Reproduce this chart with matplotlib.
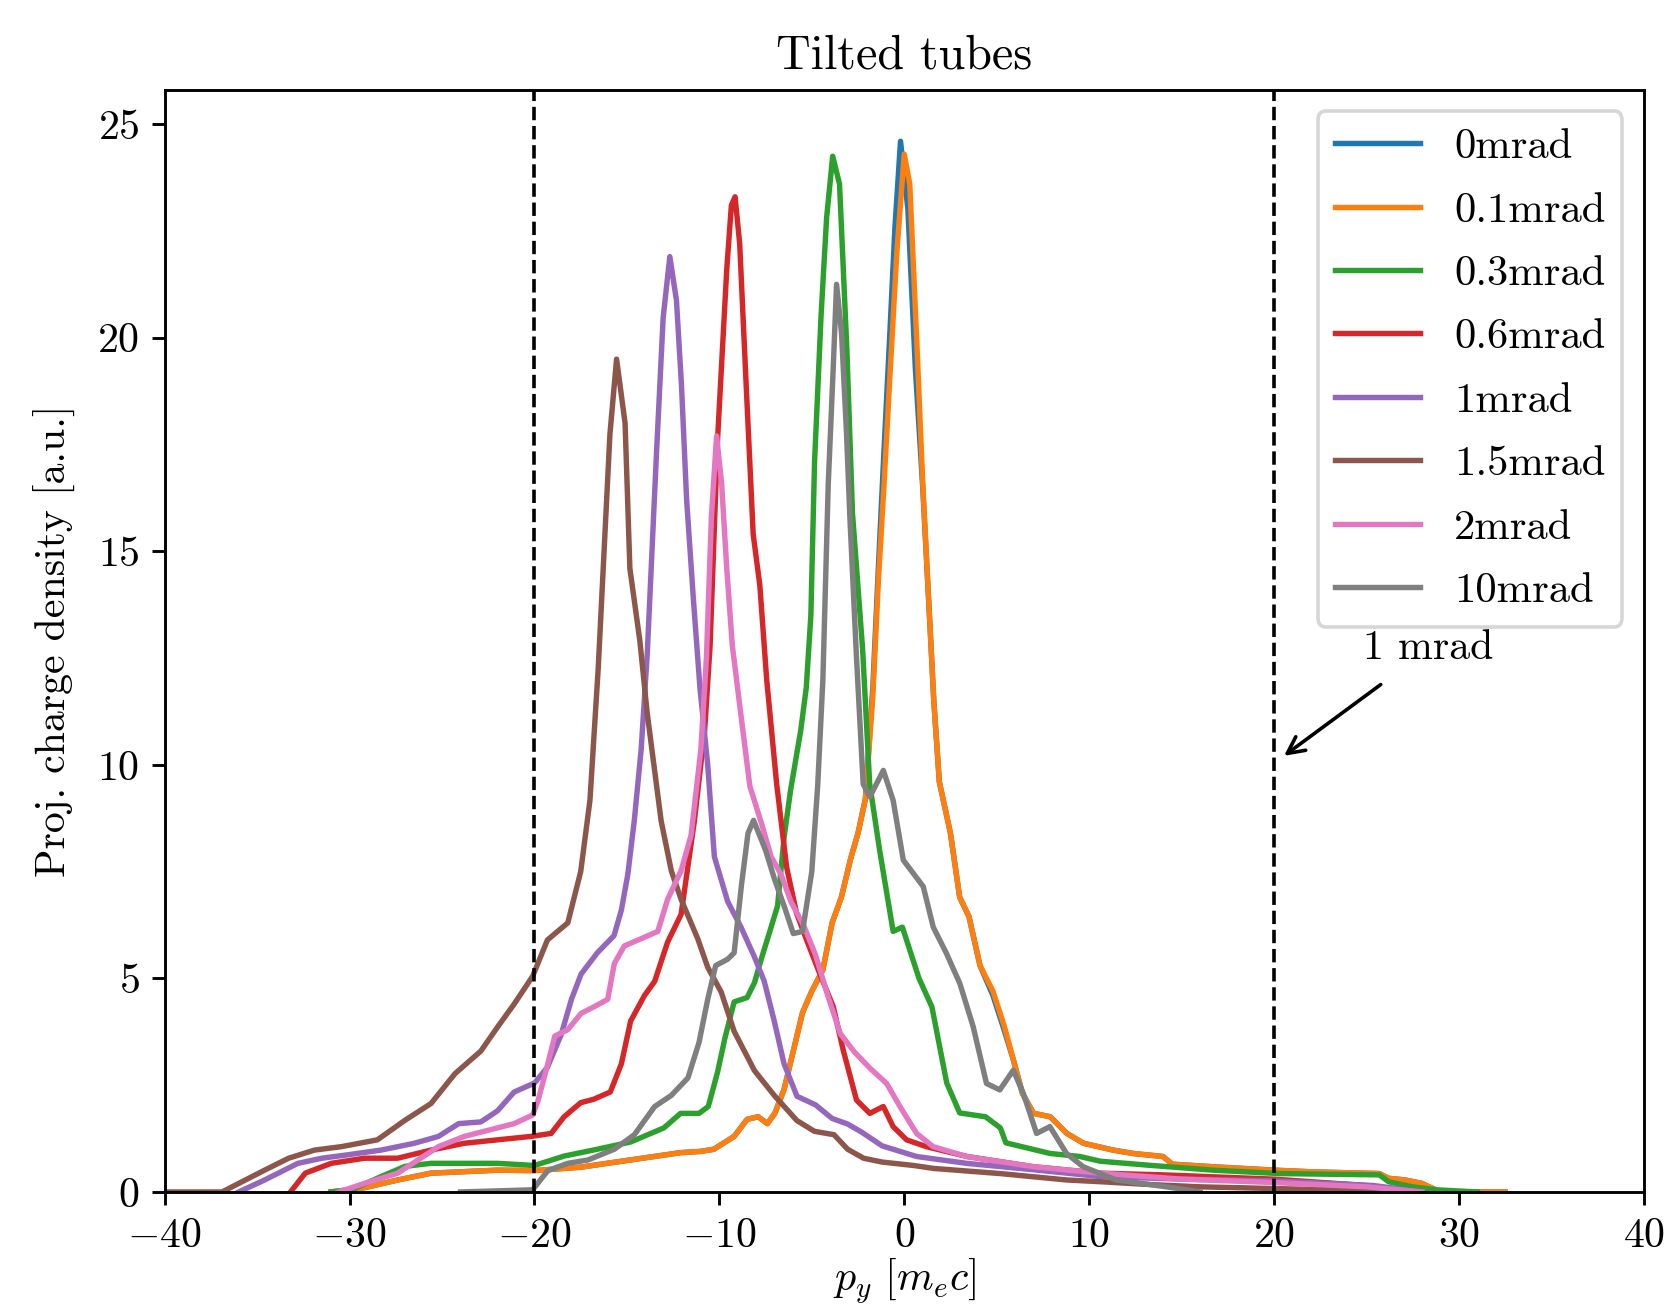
import matplotlib
matplotlib.use("Agg")
import matplotlib.pyplot as plt

plt.rcParams.update({
    "font.family": "serif",
    "font.serif": ["cmr10"],
    "mathtext.fontset": "cm",
    "axes.formatter.use_mathtext": True,
    "font.size": 11.6,
})

# values
labels = ["0mrad", "0.1mrad", "0.3mrad", "0.6mrad", "1mrad", "1.5mrad", "2mrad", "10mrad"]
colors = ["tab:blue", "tab:orange", "tab:green", "tab:red",
          "tab:purple", "tab:brown", "tab:pink", "tab:gray"]

blue_x = [-31, -29.2, -27.4, -25.6, -22.0, -20.0, -17.5, -14.8, -12.1, -11.0, -10.3, -9.2, -8.5,
          -7.9, -7.4, -7.0, -6.5, -6.0, -5.5, -5.0, -4.4, -3.9, -3.4, -2.9, -2.5, -2.1, -1.7, -1.4,
          -1.1, -0.8, -0.5, -0.2, 0.2, 0.6, 1.0, 1.4, 1.6, 1.9, 2.5, 3.0, 3.5, 4.1, 4.8, 5.4, 5.9,
          6.4, 7.0, 7.9, 8.8, 9.7, 11.3, 12.4, 14.0, 14.5, 16.7, 20.0, 22.1, 25.7, 26.2, 27.1,
          28.0, 28.6, 29.0, 32.5]
blue_y = [0, 0.1, 0.28, 0.44, 0.51, 0.5, 0.58, 0.75, 0.92, 0.95, 1.0, 1.3, 1.7, 1.76, 1.6, 1.84,
          2.4, 3.3, 4.2, 4.7, 5.2, 6.3, 6.9, 7.8, 8.4, 9.2, 11.8, 14.6, 17.3, 19.9, 22.6, 24.6,
          23.0, 19.3, 16.5, 13.2, 11.5, 9.6, 8.4, 6.9, 6.45, 5.3, 4.6, 3.8, 3.1, 2.3, 1.84, 1.76,
          1.37, 1.14, 0.98, 0.9, 0.83, 0.65, 0.59, 0.51, 0.47, 0.43, 0.32, 0.28, 0.2, 0.08, 0.0, 0.0]

orange_x = [-31, -29.2, -27.4, -25.6, -22.0, -20.0, -17.5, -14.8, -12.1, -11.0, -10.3, -9.2, -8.5,
            -7.9, -7.4, -7.0, -6.5, -6.0, -5.5, -5.0, -4.4, -3.9, -3.4, -2.9, -2.5, -2.1, -1.7, -1.4,
            -1.1, -0.8, -0.4, 0.0, 0.3, 0.7, 1.0, 1.4, 1.6, 1.9, 2.5, 3.0, 3.5, 4.1, 4.8, 5.4, 5.9,
            6.4, 7.0, 7.9, 8.8, 9.7, 11.3, 12.4, 14.0, 14.5, 16.7, 20.0, 22.1, 25.7, 26.2, 27.1,
            28.0, 28.6, 29.0, 32.5]
orange_y = [0, 0.1, 0.28, 0.44, 0.51, 0.5, 0.58, 0.75, 0.92, 0.95, 1.0, 1.3, 1.7, 1.76, 1.6, 1.84,
            2.4, 3.3, 4.2, 4.7, 5.2, 6.3, 6.9, 7.8, 8.4, 9.2, 11.6, 14.3, 16.5, 18.9, 22.0, 24.3,
            23.6, 19.7, 16.6, 13.2, 11.5, 9.6, 8.4, 6.9, 6.45, 5.3, 4.7, 3.9, 3.1, 2.3, 1.84, 1.76,
            1.37, 1.14, 0.98, 0.9, 0.83, 0.65, 0.59, 0.51, 0.47, 0.43, 0.32, 0.28, 0.2, 0.08, 0.0, 0.0]

green_x = [-31, -29.9, -28.3, -27.0, -25.6, -22.0, -20.0, -18.4, -16.6, -14.8, -13.0, -12.1, -11.1,
           -10.6, -10.1, -9.7, -9.2, -8.5, -8.1, -7.7, -7.2, -6.85, -6.5, -6.15, -5.6, -5.3, -5.05,
           -4.85, -4.5, -4.2, -3.87, -3.5, -3.1, -2.8, -2.25, -1.87, -1.33, -0.6, -0.1, 0.8, 1.5,
           2.3, 3.0, 4.4, 5.2, 5.5, 7.9, 9.5, 10.6, 13.1, 16.7, 20.3, 25.7, 26.2, 27.5, 28.8, 31.0]
green_y = [0, 0.05, 0.36, 0.6, 0.67, 0.67, 0.62, 0.84, 1.0, 1.17, 1.5, 1.84, 1.84, 2.0, 2.8, 3.6,
           4.45, 4.55, 4.9, 5.5, 6.2, 6.7, 8.3, 9.4, 10.8, 11.8, 13.5, 17.1, 20.5, 22.8, 24.25, 23.6,
           19.7, 15.9, 12.7, 9.56, 8.0, 6.1, 6.2, 5.0, 4.33, 2.55, 1.85, 1.76, 1.5, 1.15, 0.9, 0.83,
           0.72, 0.63, 0.51, 0.43, 0.4, 0.24, 0.12, 0.05, 0.0]

red_x = [-33.2, -32.4, -31.0, -29.2, -27.4, -25.6, -23.8, -22.0, -20.2, -19.1, -18.4, -17.5, -16.8,
         -15.9, -15.3, -14.8, -14.05, -13.5, -12.8, -12.07, -11.35, -10.8, -10.5, -10.1, -9.6, -9.35,
         -9.15, -8.9, -8.55, -8.17, -7.81, -7.44, -6.9, -6.36, -5.82, -5.28, -4.56, -3.84, -3.3,
         -2.58, -1.86, -1.13, -0.6, 0.13, 1.2, 3.4, 7.0, 10.6, 14.0, 20.0, 25.0, 28.0]
red_y = [0, 0.44, 0.67, 0.79, 0.79, 0.98, 1.14, 1.22, 1.3, 1.37, 1.76, 2.09, 2.17, 2.34, 3.0, 4.0,
         4.6, 4.93, 5.85, 6.5, 8.69, 10.78, 12.8, 17.6, 21.6, 23.1, 23.3, 22.2, 18.9, 15.4, 14.2,
         12.0, 9.55, 7.6, 6.52, 5.9, 5.1, 4.34, 3.32, 2.15, 1.84, 2.0, 1.53, 1.22, 1.06, 0.83, 0.59,
         0.44, 0.4, 0.3, 0.15, 0]

purple_x = [-36.0, -34.6, -32.8, -31.5, -30.1, -28.3, -26.5, -25.2, -24.1, -22.9, -22.0, -21.1,
            -20.0, -19.3, -18.56, -18.0, -17.48, -16.6, -15.7, -15.3, -14.95, -14.6, -14.23, -13.9,
            -13.4, -13.04, -12.68, -12.32, -12.05, -11.77, -11.4, -11.05, -10.63, -10.27, -9.55,
            -8.83, -8.1, -7.57, -7.03, -6.5, -5.8, -4.8, -3.9, -3.06, -2.3, -1.2, 0.67, 3.37, 7.0,
            10.6, 15.0, 20.0, 25.4, 28.0]
purple_y = [0, 0.28, 0.67, 0.79, 0.87, 0.98, 1.14, 1.3, 1.6, 1.64, 1.9, 2.34, 2.55, 2.92, 3.68,
            4.51, 5.1, 5.6, 6.0, 6.6, 7.44, 8.7, 10.36, 12.6, 17.3, 20.47, 21.9, 20.87, 18.9, 16.2,
            13.85, 11.8, 10.0, 7.85, 6.8, 6.2, 5.5, 4.93, 4.0, 3.0, 2.24, 2.04, 1.72, 1.59, 1.4,
            1.08, 0.83, 0.67, 0.52, 0.36, 0.3, 0.26, 0.15, 0]

brown_x = [-40, -36.9, -34.6, -33.3, -31.9, -30.45, -28.5, -27.0, -25.6, -24.3, -22.9, -22.0,
           -21.1, -20.1, -19.3, -18.2, -17.5, -17.0, -16.55, -16.28, -15.92, -15.56, -15.1, -14.84,
           -14.3, -13.9, -13.15, -12.6, -12.07, -11.17, -10.63, -9.9, -9.2, -8.1, -7.03, -5.8,
           -4.86, -3.8, -3.06, -2.2, -1.2, 0.5, 1.6, 5.2, 8.8, 10.6, 13.0, 16.0, 20.0, 24.0, 27.0]
brown_y = [0, 0, 0.51, 0.79, 0.98, 1.06, 1.22, 1.68, 2.07, 2.77, 3.3, 3.86, 4.4, 5.05, 5.9, 6.3,
           7.5, 9.17, 12.28, 14.62, 17.74, 19.5, 18.0, 14.6, 12.9, 11.2, 8.69, 7.52, 6.85, 5.93,
           5.26, 4.68, 3.76, 2.84, 2.26, 1.67, 1.42, 1.34, 1.0, 0.79, 0.7, 0.62, 0.55, 0.43, 0.28,
           0.24, 0.18, 0.12, 0.08, 0.04, 0.0]

pink_x = [-30.6, -29.2, -27.4, -26.3, -25.2, -23.8, -22.0, -21.1, -20.1, -19.8, -19.4, -18.9,
          -18.2, -17.48, -16.76, -16.04, -15.68, -15.14, -14.23, -13.33, -12.8, -12.07, -11.53,
          -11.0, -10.7, -10.43, -10.15, -9.88, -9.6, -9.3, -8.9, -8.35, -7.7, -7.2, -6.67, -6.13,
          -5.4, -4.8, -4.1, -3.45, -2.7, -1.86, -0.95, -0.23, 0.67, 1.57, 3.37, 7.0, 10.6, 15.0,
          20.0, 25.0, 28.0]
pink_y = [0, 0.2, 0.44, 0.75, 1.06, 1.3, 1.5, 1.6, 1.8, 2.15, 2.8, 3.65, 3.8, 4.18, 4.34, 4.51,
          5.35, 5.76, 5.93, 6.1, 6.85, 7.52, 8.35, 10.36, 12.5, 15.8, 17.7, 16.6, 14.6, 12.8, 11.4,
          9.5, 8.6, 7.85, 7.44, 6.8, 6.2, 5.55, 4.55, 3.7, 3.28, 2.9, 2.54, 2.0, 1.37, 1.06, 0.83,
          0.59, 0.44, 0.3, 0.22, 0.12, 0]

gray_x = [-24.0, -20.1, -19.28, -18.2, -17.1, -15.68, -14.6, -13.5, -12.6, -11.7, -11.1, -10.63,
          -10.2, -9.55, -9.2, -8.8, -8.45, -8.15, -7.5, -7.0, -6.5, -6.0, -5.5, -5.0, -4.68, -4.4,
          -4.11, -3.84, -3.66, -3.39, -3.12, -2.94, -2.58, -2.22, -1.86, -1.13, -0.6, -0.05, 0.49,
          1.03, 1.57, 2.29, 3.01, 3.73, 4.45, 5.17, 5.9, 6.44, 7.16, 7.88, 8.78, 9.68, 11.48,
          14.19, 16.0]
gray_y = [0, 0.05, 0.5, 0.67, 0.75, 1.0, 1.34, 2.0, 2.26, 2.67, 3.5, 4.51, 5.3, 5.45, 5.6, 7.2,
          8.4, 8.7, 8.0, 7.3, 6.7, 6.05, 6.1, 7.5, 9.52, 12.0, 16.57, 19.3, 21.25, 20.1, 17.75,
          15.8, 12.5, 9.55, 9.25, 9.87, 9.17, 7.77, 7.46, 7.15, 6.2, 5.58, 4.88, 3.87, 2.54, 2.39,
          2.85, 2.31, 1.37, 1.53, 0.9, 0.59, 0.28, 0.12, 0.0]

xs = [blue_x, orange_x, green_x, red_x, purple_x, brown_x, pink_x, gray_x]
ys = [blue_y, orange_y, green_y, red_y, purple_y, brown_y, pink_y, gray_y]

fig = plt.figure(figsize=(1666 / 260, 1312 / 260), dpi=260)
ax = fig.add_subplot(111)
fig.subplots_adjust(left=0.0989, right=0.9866, bottom=0.0915, top=0.9314)

for x, y, lab, c in zip(xs, ys, labels, colors):
    ax.plot(x, y, color=c, lw=1.5, label=lab)

ax.axvline(-20, color='k', ls='--', lw=1)
ax.axvline(20, color='k', ls='--', lw=1)

# arrow + label for the 1 mrad line
ax.annotate('', xy=(20.23, 10.11), xytext=(26.09, 11.98),
            arrowprops=dict(arrowstyle='->', color='k', lw=1))
ax.text(24.8, 12.47, '1 mrad', ha='left', va='baseline')

ax.set_xlim(-40, 40)
ax.set_ylim(0, 25.8)
ax.set_xlabel(r'$p_y\ [m_ec]$', labelpad=0.5)
ax.set_ylabel('Proj. charge density [a.u.]', labelpad=6)
ax.set_title('Tilted tubes', fontsize=13.3)
ax.legend(loc='upper right', fontsize=11.8, labelspacing=0.6)

fig.savefig('out.png', dpi=260)
